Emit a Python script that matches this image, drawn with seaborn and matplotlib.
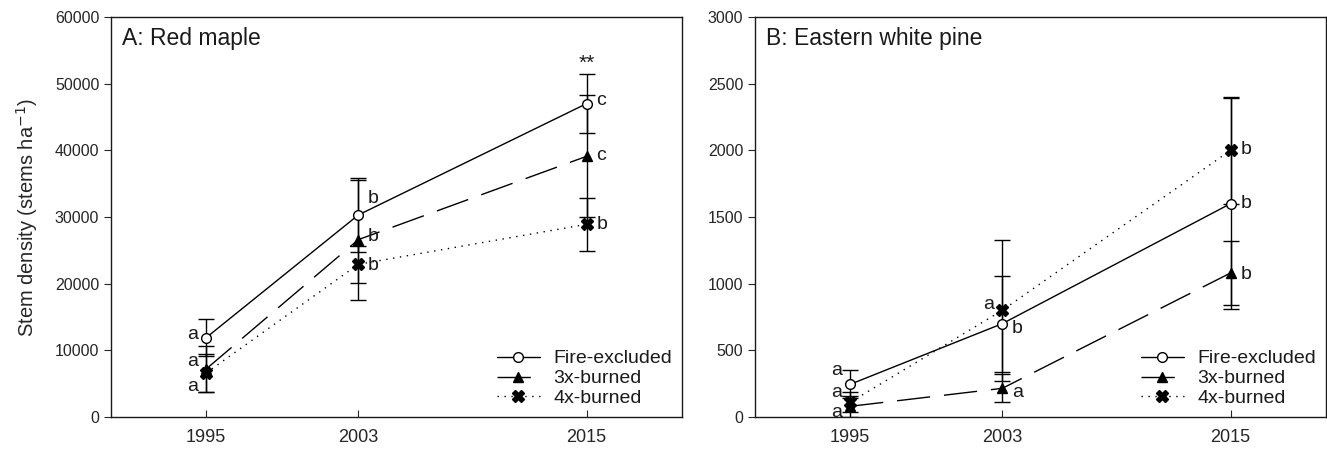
import matplotlib
matplotlib.use('Agg')
import matplotlib.pyplot as plt
import pandas as pd
import seaborn as sns

# data
years = [1995, 2003, 2015]
treatments = ['Fire-excluded', '3x-burned', '4x-burned']

# A: Red maple (stems/ha), mean and error bar
maple_fire = [11900, 30300, 47000]
maple_3x = [7200, 26600, 39100]
maple_4x = [6600, 22900, 28900]
maple_fire_err = [2800, 5600, 4400]
maple_3x_err = [3500, 9000, 9150]
maple_4x_err = [2900, 2800, 4000]

# B: Eastern white pine
pine_fire = [245, 700, 1600]
pine_3x = [80, 215, 1080]
pine_4x = [110, 800, 2000]
pine_fire_err = [105, 360, 790]
pine_3x_err = [80, 105, 240]
pine_4x_err = [75, 530, 400]

# significance letters (same order as treatments) and where they sit
maple_letters = [['a', 'b', 'c'], ['a', 'b', 'c'], ['a', 'b', 'b']]
maple_letter_y = [[12400, 32750, 47400], [8250, 27000, 39150], [4600, 22650, 28900]]
maple_letter_side = [['l', 'r', 'r'], ['l', 'r', 'r'], ['l', 'r', 'r']]

pine_letters = [['a', 'b', 'b'], ['a', 'a', 'b'], ['a', 'a', 'b']]
pine_letter_y = [[345, 662, 1600], [35, 182, 1067], [185, 842, 2007]]
pine_letter_side = [['l', 'r', 'r'], ['l', 'r', 'r'], ['l', 'l', 'r']]

sns.set_style('ticks')
plt.rcParams['font.family'] = ['Liberation Sans', 'DejaVu Sans']
plt.rcParams['text.color'] = '#1a1a1a'
plt.rcParams['axes.edgecolor'] = '#1a1a1a'

styles = {
    'Fire-excluded': dict(marker='o', linestyle='-', markerfacecolor='white', markersize=7),
    '3x-burned': dict(marker='^', linestyle=(0, (24, 10)), markerfacecolor='black', markersize=7),
    '4x-burned': dict(marker='X', linestyle=(0, (1, 4)), markerfacecolor='black', markersize=8),
}


def draw_panel(ax, means, errs, letters, letter_y, letter_side, title, ymax, ystep):
    rows = []
    for t, m, e in zip(treatments, means, errs):
        for yr, v, er in zip(years, m, e):
            rows.append({'year': yr, 'value': v, 'err': er, 'treatment': t})
    df = pd.DataFrame(rows)

    for t in treatments:
        sub = df[df['treatment'] == t]
        ax.errorbar(sub['year'], sub['value'], yerr=sub['err'], fmt='none',
                    ecolor='black', elinewidth=1.0, capsize=6, capthick=1.0, zorder=2)
        sns.lineplot(data=sub, x='year', y='value', ax=ax, color='black', lw=1.0,
                     markeredgecolor='black', markeredgewidth=1.0,
                     label=t, zorder=3, estimator=None, **styles[t])

    # letters next to the points
    for i in range(len(treatments)):
        for j, yr in enumerate(years):
            side = letter_side[i][j]
            dx = 7 if side == 'r' else -6
            ax.annotate(letters[i][j], (yr, letter_y[i][j]), xytext=(dx, 0),
                        textcoords='offset points', ha='left' if side == 'r' else 'right',
                        va='center', fontsize=14)

    ax.set_xlim(1990, 2020)
    ax.set_ylim(0, ymax)
    ax.set_xticks(years)
    ax.set_yticks(range(0, ymax + 1, ystep))
    ax.set_xlabel('')
    ax.set_ylabel('')
    ax.tick_params(axis='x', direction='in', length=5, labelsize=13, pad=9)
    ax.tick_params(axis='y', direction='out', length=5, labelsize=11.5)
    for s in ax.spines.values():
        s.set_visible(True)
        s.set_linewidth(1.0)

    ax.text(0.02, 0.975, title, transform=ax.transAxes, ha='left', va='top', fontsize=16.5)
    ax.legend(loc='lower right', frameon=False, fontsize=14, handlelength=2.2,
              handletextpad=0.7, labelspacing=0.12, borderaxespad=0.3, borderpad=0.2)


fig = plt.figure(figsize=(13.27, 4.51), dpi=100)
ax1 = fig.add_axes([0.0837, 0.0754, 0.430, 0.887])
ax2 = fig.add_axes([0.569, 0.0754, 0.430, 0.887])

draw_panel(ax1, [maple_fire, maple_3x, maple_4x],
           [maple_fire_err, maple_3x_err, maple_4x_err],
           maple_letters, maple_letter_y, maple_letter_side,
           'A: Red maple', 60000, 10000)
ax1.annotate('**', (2015, 53000), ha='center', va='center', fontsize=15)
ax1.set_ylabel('Stem density (stems ha$^{-1}$)', fontsize=14.5)
ax1.yaxis.set_label_coords(-0.125, 0.5)

draw_panel(ax2, [pine_fire, pine_3x, pine_4x],
           [pine_fire_err, pine_3x_err, pine_4x_err],
           pine_letters, pine_letter_y, pine_letter_side,
           'B: Eastern white pine', 3000, 500)

plt.savefig('out.png', dpi=100)
plt.close()
